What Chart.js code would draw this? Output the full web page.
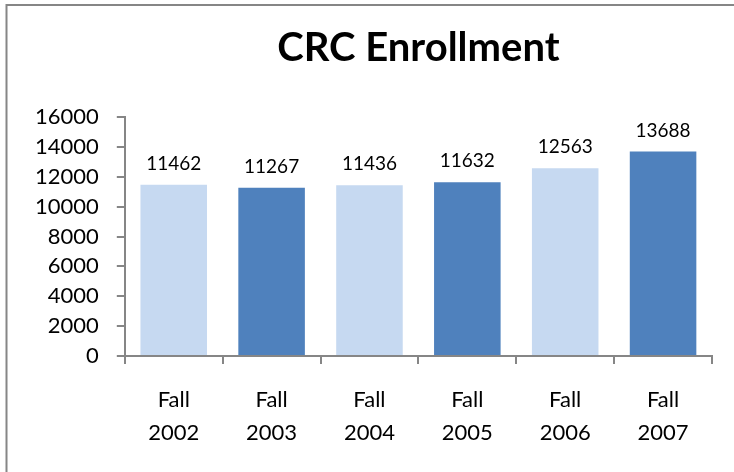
<!DOCTYPE html>
<html>
<head>
<meta charset="utf-8">
<script src="https://cdn.jsdelivr.net/npm/chart.js@4/dist/chart.umd.min.js"></script>
<style>
  html, body { margin: 0; padding: 0; background: #fff; }
  #wrap { position: relative; width: 734px; height: 472px; }
</style>
</head>
<body>
<div id="wrap"><canvas id="chart" width="734" height="472"></canvas></div>
<script>
const years     = ['2002', '2003', '2004', '2005', '2006', '2007']
const enrolled  = [11462, 11267, 11436, 11632, 12563, 13688]
const barColors = ['#C6D9F1', '#4F81BD', '#C6D9F1', '#4F81BD', '#C6D9F1', '#4F81BD']
const yTicks    = [0, 2000, 4000, 6000, 8000, 10000, 12000, 14000, 16000]

const FONT = 'Lato, "Open Sans", sans-serif'
const AXIS_GRAY = '#868686'

// chart frame: only the top and left edges fall inside the picture
const framePlugin = {
      id: 'frame',
      beforeDraw(chart){
            const ctx = chart.ctx
            ctx.save()
            ctx.fillStyle = '#fff'
            ctx.fillRect(0, 0, chart.width, chart.height)
            ctx.strokeStyle = AXIS_GRAY
            ctx.lineWidth = 2
            ctx.beginPath()
            ctx.moveTo(6.5, chart.height)
            ctx.lineTo(6.5, 5)
            ctx.lineTo(chart.width, 5)
            ctx.stroke()
            ctx.restore()
      }
}

// value on top of every bar
const valueLabels = {
      id: 'valueLabels',
      afterDatasetsDraw(chart){
            const ctx = chart.ctx
            const meta = chart.getDatasetMeta(0)
            ctx.save()
            ctx.font = '19px ' + FONT
            ctx.fillStyle = '#000'
            ctx.textAlign = 'center'
            ctx.textBaseline = 'alphabetic'
            meta.data.forEach((bar, i)=>{
                  ctx.fillText(String(chart.data.datasets[0].data[i]), bar.x, bar.y - 15)
            })
            ctx.restore()
      }
}

const setup = {
      type: 'bar',
      data: {
            labels: years.map(y => ['Fall', y]),
            datasets: [{
                  label: 'Enrollment',
                  data: enrolled,
                  backgroundColor: barColors,
                  borderWidth: 0,
                  categoryPercentage: 1,
                  barPercentage: 0.68
            }]
      },
      options: {
            responsive: false,
            animation: false,
            layout: { padding: { left: 17, right: 22, top: 0, bottom: 4 } },
            plugins: {
                  legend: { display: false },
                  tooltip: { enabled: false },
                  title: {
                        display: true,
                        text: 'CRC Enrollment',
                        fullSize: false,
                        color: '#000',
                        font: { family: FONT, size: 40, weight: 'bold' },
                        padding: { top: 24, bottom: 45 }
                  }
            },
            scales: {
                  x: {
                        grid: { drawOnChartArea: false, drawTicks: true, tickLength: 8, color: AXIS_GRAY, lineWidth: 2, offset: true },
                        border: { color: AXIS_GRAY, width: 2 },
                        ticks: { color: '#000', font: { family: FONT, size: 22, lineHeight: 1.5 }, padding: 19, maxRotation: 0 }
                  },
                  y: {
                        min: 0,
                        max: 16000,
                        afterBuildTicks: (axis)=>{ axis.ticks = yTicks.map(v => ({ value: v })) },
                        grid: { drawOnChartArea: false, drawTicks: true, tickLength: 8, color: AXIS_GRAY, lineWidth: 2 },
                        border: { color: AXIS_GRAY, width: 2 },
                        ticks: { color: '#000', font: { family: FONT, size: 22 }, padding: 18, autoSkip: false, callback: v => String(v) }
                  }
            }
      },
      plugins: [framePlugin, valueLabels]
}

new Chart(document.getElementById('chart'), setup)
</script>
</body>
</html>
